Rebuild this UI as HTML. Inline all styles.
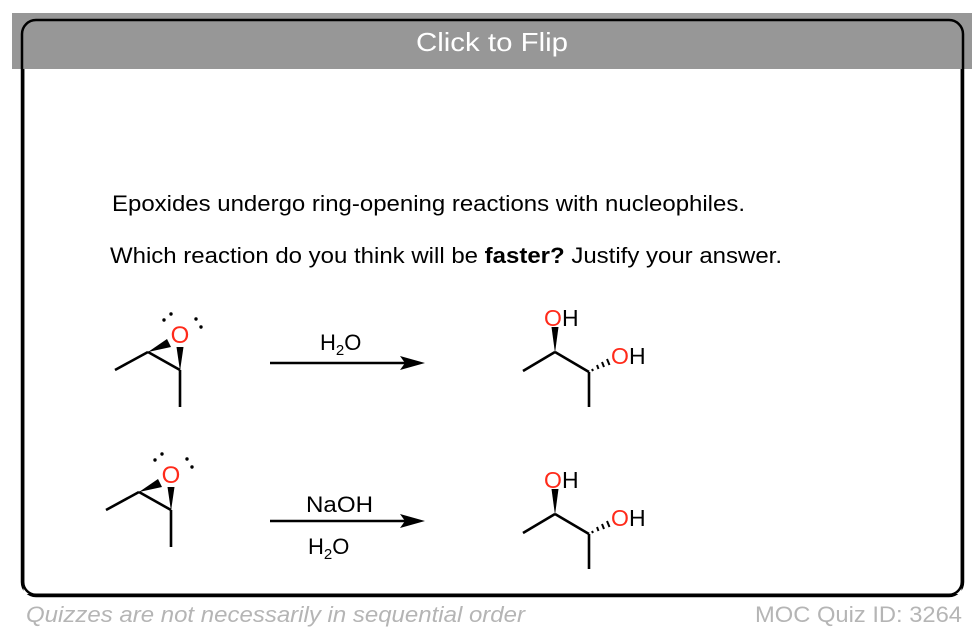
<!DOCTYPE html>
<html><head><style>
html,body{margin:0;padding:0;background:#fff;width:974px;height:636px;overflow:hidden}
svg text{font-family:"Liberation Sans",Arial,sans-serif}
</style></head><body>
<svg width="974" height="636" viewBox="0 0 974 636" xmlns="http://www.w3.org/2000/svg">
<rect x="12" y="13" width="960" height="56" fill="#979797"/>
<rect x="22" y="20" width="941" height="576" rx="14" ry="14" fill="none" stroke="#000" stroke-width="2.5"/>
<rect x="23.5" y="69" width="938" height="525" fill="#fff"/>
<path d="M23.2 69 V582 A13 13 0 0 0 36 594.8 H949 A13 13 0 0 0 961.8 582 V69" fill="none" stroke="#000" stroke-width="2.5"/>
<text x="416" y="51" font-size="26" fill="#fff" textLength="152" lengthAdjust="spacingAndGlyphs">Click to Flip</text>
<text x="112" y="211" font-size="22" fill="#000" textLength="633" lengthAdjust="spacingAndGlyphs">Epoxides undergo ring-opening reactions with nucleophiles.</text>
<text x="110" y="263" font-size="22" fill="#000" textLength="672" lengthAdjust="spacingAndGlyphs">Which reaction do you think will be <tspan font-weight="bold">faster?</tspan> Justify your answer.</text>

<g id="epox">
<line x1="115" y1="370" x2="148" y2="352" stroke="#000" stroke-width="2.6"/>
<line x1="148" y1="352" x2="180" y2="370" stroke="#000" stroke-width="2.6"/>
<line x1="180" y1="370" x2="180" y2="407" stroke="#000" stroke-width="2.6"/>
<polygon points="148,352 167,339 171,347" fill="#000"/>
<polygon points="180,371 176.5,347 183.5,347" fill="#000"/>
<text x="180" y="343" font-size="24" fill="#ff2a1a" text-anchor="middle">O</text>
<circle cx="164" cy="320" r="1.7" fill="#000"/><circle cx="171" cy="314" r="1.7" fill="#000"/>
<circle cx="196" cy="319" r="1.7" fill="#000"/><circle cx="201" cy="327" r="1.7" fill="#000"/>
</g>
<use href="#epox" transform="translate(-9,140)"/>

<g id="prod">
<line x1="523" y1="371" x2="555" y2="352" stroke="#000" stroke-width="2.6"/>
<line x1="555" y1="352" x2="589" y2="372" stroke="#000" stroke-width="2.6"/>
<line x1="589" y1="372" x2="589" y2="407" stroke="#000" stroke-width="2.6"/>
<polygon points="555,353 551.5,327 558.5,327" fill="#000"/>
<g stroke="#000" stroke-width="2">
<line x1="592" y1="369" x2="593" y2="371"/>
<line x1="597" y1="365" x2="598.5" y2="369"/>
<line x1="602" y1="362" x2="604" y2="367"/>
<line x1="607" y1="359" x2="609.5" y2="365"/>
</g>
<text x="544" y="326" font-size="23" fill="#ff2a1a">O</text><text x="562" y="326" font-size="23" fill="#000">H</text>
<text x="611" y="364" font-size="23" fill="#ff2a1a">O</text><text x="629" y="364" font-size="23" fill="#000">H</text>
</g>
<use href="#prod" transform="translate(0,162)"/>

<line x1="270" y1="363" x2="405" y2="363" stroke="#000" stroke-width="2.6"/>
<polygon points="425,363 400,356 405,363 400,370" fill="#000"/>
<text x="320" y="350" font-size="22">H<tspan font-size="15" dy="5">2</tspan><tspan dy="-5">O</tspan></text>

<line x1="270" y1="521" x2="405" y2="521" stroke="#000" stroke-width="2.6"/>
<polygon points="425,521 400,514 405,521 400,528" fill="#000"/>
<text x="306" y="512" font-size="22" textLength="67" lengthAdjust="spacingAndGlyphs">NaOH</text>
<text x="308" y="554" font-size="22">H<tspan font-size="15" dy="5">2</tspan><tspan dy="-5">O</tspan></text>

<text x="26" y="622" font-size="22" font-style="italic" fill="#b5b5b5" textLength="499" lengthAdjust="spacingAndGlyphs">Quizzes are not necessarily in sequential order</text>
<text x="755" y="622" font-size="22" fill="#b5b5b5" textLength="207" lengthAdjust="spacingAndGlyphs">MOC Quiz ID: 3264</text>
</svg>
</body></html>
